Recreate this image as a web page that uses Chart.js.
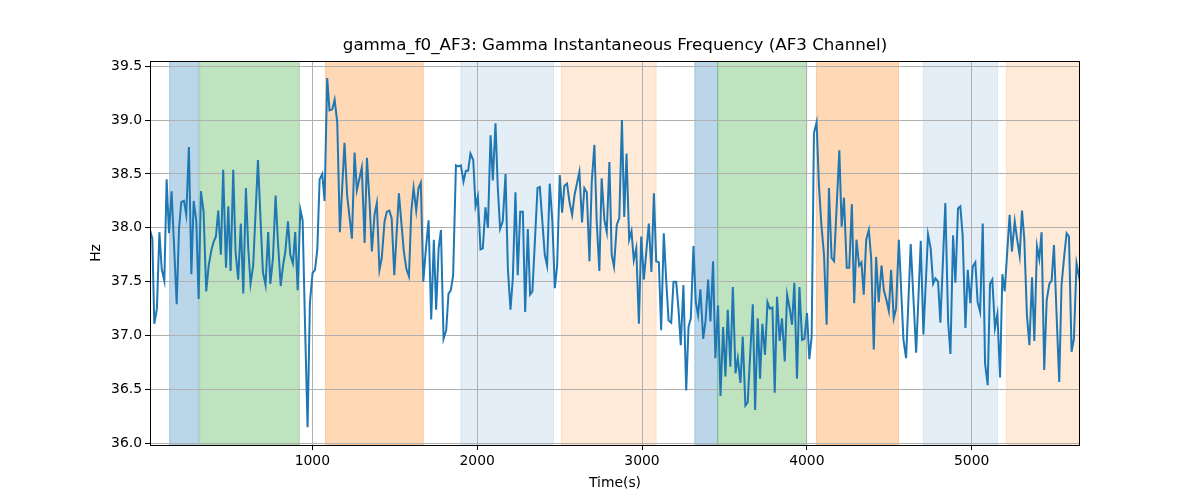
<!DOCTYPE html>
<html>
<head>
<meta charset="utf-8">
<script src="https://cdn.jsdelivr.net/npm/chart.js@4/dist/chart.umd.min.js"></script>
<style>
  html, body { margin: 0; padding: 0; background: #fff; }
</style>
</head>
<body>
<canvas id="gammaChart" width="1200" height="500"></canvas>
<script>
'use strict'

// 時刻 (s)
const times = [
  15, 29, 41, 57, 72, 86, 102, 116, 130, 146, 177, 191, 205, 221, 235, 251, 266, 280, 296, 310,
  324, 340, 356, 371, 387, 401, 415, 429, 445, 459, 476, 490, 504, 520, 534, 550, 566, 581, 597, 611,
  625, 641, 670, 686, 700, 716, 732, 745, 761, 777, 791, 808, 822, 836, 852, 866, 882, 896, 911, 927,
  941, 955, 971, 985, 1001, 1016, 1030, 1044, 1060, 1074, 1090, 1104, 1121, 1135, 1151, 1167, 1195, 1211, 1240, 1256,
  1270, 1300, 1317, 1331, 1347, 1361, 1377, 1391, 1407, 1421, 1438, 1452, 1467, 1481, 1497, 1525, 1541, 1555, 1570, 1586,
  1600, 1614, 1630, 1644, 1658, 1673, 1689, 1705, 1721, 1737, 1751, 1766, 1780, 1796, 1812, 1826, 1840, 1854, 1871, 1885,
  1901, 1917, 1931, 1945, 1959, 1976, 1990, 2004, 2020, 2034, 2050, 2065, 2081, 2095, 2111, 2125, 2139, 2155, 2172, 2186,
  2202, 2216, 2232, 2246, 2261, 2277, 2291, 2307, 2321, 2335, 2366, 2380, 2410, 2424, 2440, 2456, 2471, 2485, 2501, 2515,
  2529, 2545, 2560, 2576, 2590, 2620, 2636, 2650, 2665, 2681, 2695, 2711, 2725, 2741, 2755, 2772, 2786, 2802, 2816, 2830,
  2847, 2862, 2878, 2892, 2906, 2922, 2936, 2950, 2965, 2981, 2995, 3011, 3041, 3057, 3072, 3086, 3102, 3116, 3132, 3146,
  3161, 3177, 3191, 3207, 3221, 3235, 3251, 3268, 3282, 3296, 3312, 3326, 3340, 3354, 3371, 3385, 3401, 3415, 3431, 3445,
  3461, 3476, 3492, 3506, 3520, 3536, 3551, 3567, 3581, 3597, 3611, 3627, 3641, 3672, 3686, 3702, 3716, 3730, 3746, 3761,
  3775, 3791, 3805, 3819, 3835, 3849, 3866, 3880, 3896, 3910, 3924, 3940, 3955, 3971, 3985, 4001, 4015, 4029, 4043, 4059,
  4073, 4088, 4104, 4120, 4134, 4150, 4165, 4197, 4211, 4225, 4242, 4257, 4273, 4287, 4301, 4317, 4331, 4345, 4360, 4376,
  4390, 4406, 4420, 4436, 4453, 4467, 4481, 4497, 4511, 4527, 4541, 4558, 4586, 4602, 4630, 4663, 4691, 4707, 4735, 4751,
  4766, 4780, 4796, 4810, 4840, 4857, 4871, 4887, 4901, 4917, 4931, 4945, 4962, 4976, 4992, 5006, 5022, 5036, 5051, 5067,
  5081, 5097, 5111, 5125, 5141, 5156, 5172, 5186, 5200, 5230, 5244, 5261, 5275, 5291, 5305, 5319, 5335, 5350, 5366, 5380,
  5396, 5410, 5424, 5440, 5455, 5471, 5485, 5499, 5515, 5531, 5545, 5562, 5576, 5590, 5606, 5620, 5636, 5657
];

// 周波数 (Hz)
const freqs = [
  37.98, 37.90, 37.11, 37.25, 37.96, 37.62, 37.51, 38.45, 37.95, 38.34, 37.29, 37.99, 38.24, 38.25, 38.12, 38.75, 37.57, 38.25, 38.06, 37.34,
  38.34, 38.15, 37.41, 37.65, 37.79, 37.87, 37.92, 38.16, 37.75, 38.54, 37.63, 38.20, 37.60, 38.54, 37.78, 37.52, 38.04, 37.39, 38.37, 37.81,
  37.48, 37.65, 38.63, 38.06, 37.59, 37.47, 37.96, 37.48, 37.72, 38.30, 37.87, 37.46, 37.65, 37.78, 38.06, 37.75, 37.67, 37.96, 37.42, 38.17,
  38.07, 37.13, 36.15, 37.30, 37.58, 37.61, 37.80, 38.45, 38.50, 38.25, 39.39, 39.09, 39.10, 39.19, 38.98, 37.96, 38.79, 38.30, 37.90, 38.70,
  38.35, 38.56, 37.86, 38.65, 38.24, 37.78, 38.12, 38.23, 37.61, 37.72, 38.06, 38.15, 38.16, 38.09, 37.56, 38.32, 38.03, 37.78, 37.62, 37.55,
  38.15, 38.37, 38.16, 38.37, 38.42, 37.50, 37.81, 38.07, 37.15, 37.89, 37.24, 37.81, 37.98, 36.97, 37.05, 37.39, 37.42, 37.56, 38.58, 38.57,
  38.58, 38.43, 38.53, 38.53, 38.69, 38.63, 38.20, 38.29, 37.80, 37.81, 38.19, 38.00, 38.86, 38.44, 38.97, 38.37, 37.99, 38.06, 38.50, 37.62,
  37.24, 37.53, 38.33, 37.56, 38.15, 38.15, 37.22, 37.99, 37.38, 37.41, 38.37, 38.38, 37.75, 37.65, 38.41, 38.06, 37.44, 37.65, 38.49, 38.14,
  38.39, 38.41, 38.24, 38.12, 38.30, 38.52, 38.05, 38.37, 38.33, 37.69, 38.43, 38.77, 38.06, 37.60, 38.46, 38.07, 37.96, 38.61, 37.75, 37.64,
  38.03, 38.09, 39.00, 38.10, 38.69, 37.89, 37.97, 37.70, 37.81, 37.11, 37.92, 37.52, 38.04, 37.59, 38.32, 37.69, 37.68, 37.05, 37.95, 37.53,
  37.14, 37.12, 37.50, 37.50, 37.25, 36.91, 37.47, 36.49, 37.08, 37.16, 37.83, 37.31, 37.19, 37.43, 36.97, 37.13, 37.52, 37.13, 37.69, 36.79,
  37.28, 36.44, 37.08, 36.62, 37.24, 36.71, 37.45, 36.65, 36.79, 36.56, 36.99, 36.35, 36.38, 37.29, 36.31, 37.16, 36.60, 37.11, 36.82, 37.31,
  37.25, 37.26, 36.47, 37.36, 36.95, 37.16, 36.76, 37.38, 37.25, 37.10, 37.49, 36.60, 37.45, 36.96, 36.97, 37.21, 36.78, 36.99, 38.88, 38.98,
  38.40, 38.03, 37.75, 37.10, 38.37, 37.72, 37.69, 38.72, 38.01, 38.28, 37.63, 37.63, 38.22, 37.30, 37.89, 37.65, 37.68, 37.38, 37.89, 37.98,
  37.72, 36.87, 37.73, 37.31, 37.65, 37.42, 37.34, 37.23, 37.61, 37.16, 37.25, 37.89, 36.96, 36.79, 37.85, 36.84, 37.88, 37.01, 37.94, 37.81,
  37.48, 37.53, 37.50, 37.12, 38.23, 37.13, 36.83, 37.93, 37.49, 38.18, 38.20, 37.93, 37.07, 37.61, 37.30, 37.64, 37.68, 37.31, 37.22, 38.04,
  36.74, 36.54, 37.48, 37.52, 37.07, 37.20, 36.61, 37.57, 37.41, 38.12, 37.78, 38.06, 37.90, 37.74, 38.16, 37.90, 37.19, 36.91, 37.54, 36.95,
  37.83, 37.71, 37.96, 36.68, 37.33, 37.48, 37.51, 37.84, 37.19, 36.57, 37.47, 37.75, 37.95, 37.92, 36.85, 36.97, 37.67, 37.50
];

// 区間 (s)
const spanStart = [134, 316, 1080, 1901, 2511, 3320, 3459, 4058, 4707, 5210];
const spanEnd   = [310, 921, 1673, 2463, 3086, 3459, 3999, 4556, 5156, 5657];
const spanKind  = ['blue', 'green', 'orange', 'paleBlue', 'paleOrange', 'blue', 'green', 'orange', 'paleBlue', 'paleOrange'];

// 目盛り
const xTicks = [1000, 2000, 3000, 4000, 5000];
const yTicks = [36.0, 36.5, 37.0, 37.5, 38.0, 38.5, 39.0, 39.5];

const chartTitle = 'gamma_f0_AF3: Gamma Instantaneous Frequency (AF3 Channel)';

const bandColors = {
  blue: 'rgba(31, 119, 180, 0.3)',
  green: 'rgba(44, 160, 44, 0.3)',
  orange: 'rgba(255, 127, 14, 0.3)',
  paleBlue: 'rgba(31, 119, 180, 0.12)',
  paleOrange: 'rgba(255, 127, 14, 0.16)'
};

const FONT = '"DejaVu Sans", sans-serif';

// 背景の区間・枠・タイトル
const decorPlugin = {
  id: 'decor',
  beforeDraw(chart) {
    const {ctx, chartArea, scales} = chart;
    ctx.save();
    ctx.fillStyle = '#fff';
    ctx.fillRect(0, 0, chart.width, chart.height);
    ctx.beginPath();
    ctx.rect(chartArea.left, chartArea.top, chartArea.right - chartArea.left, chartArea.bottom - chartArea.top);
    ctx.clip();
    spanStart.forEach((s, i) => {
      const x0 = scales.x.getPixelForValue(s);
      const x1 = scales.x.getPixelForValue(spanEnd[i]);
      ctx.fillStyle = bandColors[spanKind[i]];
      ctx.strokeStyle = bandColors[spanKind[i]];
      ctx.lineWidth = 1;
      ctx.fillRect(x0, chartArea.top, x1 - x0, chartArea.bottom - chartArea.top);
      ctx.strokeRect(x0, chartArea.top, x1 - x0, chartArea.bottom - chartArea.top);
    });
    ctx.restore();
  },
  afterDatasetsDraw(chart) {
    const {ctx, chartArea} = chart;
    ctx.save();
    ctx.strokeStyle = '#000';
    ctx.lineWidth = 1;
    ctx.strokeRect(chartArea.left + 0.5, chartArea.top + 0.5,
      chartArea.right - chartArea.left - 1, chartArea.bottom - chartArea.top);
    ctx.fillStyle = '#000';
    ctx.font = '16.7px ' + FONT;
    ctx.textAlign = 'center';
    ctx.textBaseline = 'middle';
    ctx.fillText(chartTitle, (chartArea.left + chartArea.right) / 2, 46);
    ctx.restore();
  }
};

const ctx = document.getElementById('gammaChart');
const myChart = new Chart(ctx, {
  type: 'line',
  data: {
    datasets: [{
      data: times.map((t, i) => ({x: t, y: freqs[i]})),
      borderColor: '#1f77b4',
      borderWidth: 2,
      pointRadius: 0,
      tension: 0,
      fill: false
    }]
  },
  options: {
    responsive: false,
    animation: false,
    devicePixelRatio: 1,
    layout: {
      padding: {left: 0, right: 120, top: 61, bottom: 0}
    },
    plugins: {
      legend: {display: false},
      tooltip: {enabled: false}
    },
    scales: {
      x: {
        type: 'linear',
        min: 15,
        max: 5657,
        afterBuildTicks: axis => { axis.ticks = xTicks.map(v => ({value: v})); },
        afterFit: axis => { axis.height = 55; },
        border: {display: false},
        grid: {color: '#b0b0b0', lineWidth: 1, tickColor: '#000', tickLength: 5},
        ticks: {
          color: '#000',
          padding: 3,
          maxRotation: 0,
          font: {family: FONT, size: 13.9},
          callback: value => String(value)
        },
        title: {
          display: true,
          text: 'Time(s)',
          color: '#000',
          font: {family: FONT, size: 13.9},
          padding: {top: 0, bottom: 8}
        }
      },
      y: {
        min: 35.984,
        max: 39.549,
        afterBuildTicks: axis => { axis.ticks = yTicks.map(v => ({value: v})); },
        afterFit: axis => { axis.width = 150; },
        border: {display: false},
        grid: {color: '#b0b0b0', lineWidth: 1, tickColor: '#000', tickLength: 5},
        ticks: {
          color: '#000',
          padding: 3,
          font: {family: FONT, size: 13.9},
          callback: value => value.toFixed(1)
        },
        title: {
          display: true,
          text: 'Hz',
          color: '#000',
          font: {family: FONT, size: 13.9},
          padding: {top: 88, bottom: 0}
        }
      }
    }
  },
  plugins: [decorPlugin]
});
</script>
</body>
</html>
